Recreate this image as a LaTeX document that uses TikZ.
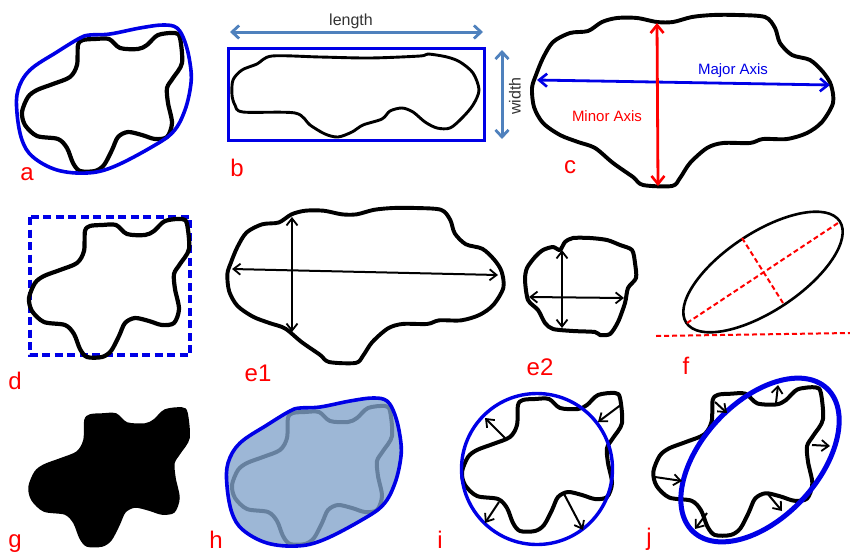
\documentclass[tikz,border=0pt]{standalone}
\usepackage{fontspec}
\setmainfont{Liberation Sans}
\usetikzlibrary{arrows.meta}
\definecolor{lblred}{HTML}{FF0000}
\definecolor{outblue}{HTML}{0000E6}
\definecolor{steel}{HTML}{4F81BD}
\definecolor{hfill}{HTML}{9DB7D6}
\definecolor{hline}{HTML}{66809E}
\newcommand{\blobA}{plot[smooth cycle,tension=0.5] coordinates {(78,45)(83,40)(95,39)(109,39)(120,48)(138,49)(147,45)(158,35)(175,33)(180,38)(182,63)(173,78)(167,88)(168,103)(172,123)(167,137)(155,139)(142,135)(128,132)(118,137)(112,150)(104,165)(95,171)(80,171)(73,163)(67,148)(58,139)(37,136)(25,125)(22,112)(28,97)(37,90)(53,84)(70,77)(77,65)}}
\newcommand{\hullA}{plot[smooth cycle,tension=0.6] coordinates {(90,35)(110,34)(140,28)(163,25)(177,28)(185,42)(190,63)(191,83)(185,110)(173,132)(150,148)(113,167)(87,173)(57,170)(33,157)(22,140)(17,113)(18,90)(30,70)(57,52)(80,38)}}
\newcommand{\blobC}{plot[smooth cycle,tension=0.5] coordinates {(532,88)(536,75)(543,58)(553,42)(570,33)(588,31)(602,22)(617,18)(637,18)(657,22)(673,22)(692,17)(713,15)(737,15)(765,17)(775,28)(780,43)(792,55)(810,60)(823,72)(831,85)(833,103)(822,122)(807,133)(787,139)(763,139)(750,143)(723,143)(707,148)(690,163)(680,178)(672,186)(643,185)(633,177)(613,163)(595,148)(578,142)(560,135)(543,123)(534,107)}}
\tikzset{
  outline/.style={draw=black,line width=4.2pt,line join=round},
  hull/.style={draw=outblue,line width=3.6pt,line join=round},
  tag/.style={text=lblred,font=\fontsize{24}{24}\selectfont,inner sep=0pt,anchor=center},
  cap15/.style={font=\fontsize{15}{15}\selectfont,inner sep=0pt},
  cap16/.style={font=\fontsize{16}{16}\selectfont,inner sep=0pt,text=black!80},
  probe/.style={draw=black,line width=2pt,-{Straight Barb[length=7pt,width=11pt,line width=1.8pt]}},
  probe2/.style={draw=black,line width=2pt,{Straight Barb[length=7pt,width=11pt,line width=1.8pt]}-{Straight Barb[length=7pt,width=11pt,line width=1.8pt]}},
  sizearrow/.style={draw=steel,line width=3pt,{Straight Barb[length=7pt,width=13pt,line width=2.8pt]}-{Straight Barb[length=7pt,width=13pt,line width=2.8pt]}},
  axisarrow/.style={line width=2.8pt,{Straight Barb[length=8pt,width=13pt,line width=2.6pt]}-{Straight Barb[length=8pt,width=13pt,line width=2.6pt]}},
  reddash/.style={draw=lblred,line width=2pt,dash pattern=on 5pt off 3pt}
}
\begin{document}
\begin{tikzpicture}[x=1pt,y=-1pt]
\useasboundingbox (0,0) rectangle (850,554);
% a
\draw[outline] \blobA;
\draw[hull] \hullA;
\node[tag] at (27,174) {a};
% b
\draw[outblue,line width=3.1pt] (228.3,48.3) rectangle (484.3,140.3);
\draw[outline,line width=2.9pt] plot[smooth cycle,tension=0.5] coordinates {(232,95)(233,80)(242,70)(257,64)(272,56)(320,57)(370,58)(420,56)(428,54)(447,57)(460,62)(473,73)(479,90)(473,105)(462,118)(450,128)(437,128)(425,122)(413,112)(402,108)(390,111)(382,119)(363,125)(352,132)(338,137)(325,134)(310,125)(295,113)(243,112)(235,105)};
\draw[sizearrow] (230,32) -- (483,32);
\draw[sizearrow] (502,50) -- (502,139);
\node[cap16] at (351,21) {length};
\node[cap16,rotate=90] at (515,96) {width};
\node[tag] at (237,168) {b};
% c
\draw[outline,line width=3.9pt] \blobC;
\draw[axisarrow,draw=outblue] (537,80) -- (830,85);
\draw[axisarrow,draw=lblred] (657,23) -- (658,186);
\node[cap15,text=outblue] at (733,71) {Major Axis};
\node[cap15,text=lblred] at (607,116) {Minor Axis};
\node[tag] at (570,167) {c};
% d
\draw[draw=outblue,line width=3.4pt,dash pattern=on 8pt off 4.5pt] (30,217) rectangle (190,355);
\draw[outline,shift={(7,186)}] \blobA;
\node[tag] at (15,381) {d};
% e1
\begin{scope}[shift={(-260.5,194.4)},xscale=0.917,yscale=0.906]
\draw[outline,line width=3.9pt] \blobC;
\end{scope}
\draw[probe2] (232,269) -- (498,275);
\draw[probe2] (292,217) -- (292,332);
\node[tag] at (258,373) {e1};
% e2
\draw[outline,line width=4pt] plot[smooth cycle,tension=0.45] coordinates {(525,280)(527,268)(535,257)(543,250)(553,247)(560,250)(565,242)(573,238)(590,238)(607,240)(620,245)(632,250)(635,263)(636,278)(628,288)(625,303)(618,322)(610,334)(600,335)(595,332)(573,331)(553,329)(545,323)(538,310)(528,300)};
\draw[probe2] (529,297) -- (624,298);
\draw[probe2] (562,250) -- (562,328);
\node[tag] at (540,367) {e2};
% f
\draw[draw=black,line width=2.6pt,rotate around={33.5:(763,272)}] (763,272) ellipse [x radius=92,y radius=39];
\draw[reddash] (687,323) -- (838,223);
\draw[reddash] (742,238) -- (783,303);
\draw[reddash] (656,336) -- (850,333);
\node[tag] at (686,366) {f};
% g
\fill[shift={(7,375)}] \blobA;
\draw[black,line width=1.5pt,shift={(7,375)}] \blobA;
\node[tag] at (15,544) {g};
% h
\fill[hfill,shift={(210,373)}] \hullA;
\draw[hline,line width=4pt,shift={(210,373)}] \blobA;
\draw[hull,shift={(210,373)}] \hullA;
\node[tag] at (216,540) {h};
% i
\draw[outline,line width=4pt,shift={(440,360)}] \blobA;
\draw[hull,line width=3.4pt] (537,469) circle [radius=75.5];
\draw[probe] (505,438) -- (485,418);
\draw[probe] (622,404) -- (598,422);
\draw[probe] (499,502) -- (485,523);
\draw[probe] (563,492) -- (583,530);
\node[tag] at (440,540) {i};
% j
\begin{scope}[shift={(630,352)},xscale=1.06,yscale=1.07]
\draw[outline,line width=4pt] \blobA;
\end{scope}
\draw[hull,line width=5pt,rotate around={47:(760,460)}] (760,460) ellipse [x radius=98,y radius=58];
\draw[probe] (776,403) -- (778,385);
\draw[probe] (715,402) -- (727,413);
\draw[probe] (812,445) -- (830,446);
\draw[probe] (655,477) -- (682,481);
\draw[probe] (707,513) -- (695,529);
\draw[probe] (767,493) -- (782,511);
\node[tag] at (649,539) {j};
\end{tikzpicture}
\end{document}
